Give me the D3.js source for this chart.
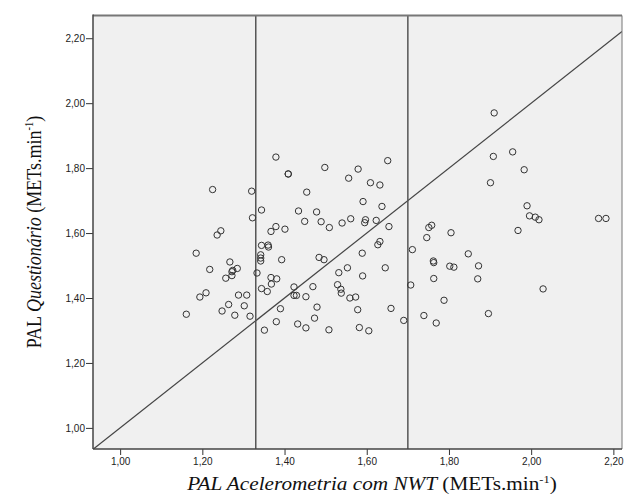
<!DOCTYPE html>
<html>
<head>
<meta charset="utf-8">
<script src="https://cdn.jsdelivr.net/npm/d3@7"></script>
<style>
  html, body { margin: 0; padding: 0; background: #fff; }
  svg { display: block; }
</style>
</head>
<body>
<svg id="chart" width="632" height="496"></svg>
<script>
// PAL Acelerometria com NWT (x) and PAL Questionário (y), METs.min-1
const palAcelerometria = [
  1.379,1.409,1.409,1.225,1.320,1.454,1.344,1.434,1.322,1.449,
  1.379,1.367,1.401,1.245,1.236,1.344,1.360,1.361,1.185,1.342,
  1.342,1.342,1.393,1.267,1.218,1.274,1.272,1.285,1.272,1.257,
  1.333,1.367,1.381,1.368,1.344,1.358,1.423,1.209,1.194,1.288,
  1.308,1.423,1.429,1.452,1.264,1.302,1.248,1.279,1.316,1.161,
  1.390,1.380,1.351,1.432,1.452,
  1.651,1.498,1.579,1.556,1.609,1.632,1.591,1.637,1.478,1.489,
  1.509,1.540,1.561,1.597,1.595,1.623,1.654,1.632,1.627,1.589,
  1.484,1.496,1.553,1.532,1.645,1.590,1.469,1.529,1.537,1.538,
  1.559,1.573,1.751,1.758,1.746,1.805,1.711,1.762,1.763,1.847,
  1.802,1.812,1.872,1.763,1.707,1.870,1.788,
  1.479,1.578,1.473,1.508,1.582,1.605,1.659,1.690,1.739,1.769,
  1.908,1.955,1.983,1.901,1.990,1.996,2.010,2.019,2.164,2.182,
  1.968,2.029,1.896,1.910
];
const palQuestionario = [
  1.834,1.782,1.782,1.734,1.729,1.726,1.671,1.668,1.647,1.636,
  1.620,1.605,1.612,1.607,1.594,1.562,1.563,1.557,1.538,1.533,
  1.523,1.514,1.518,1.511,1.488,1.485,1.481,1.491,1.469,1.461,
  1.477,1.463,1.459,1.443,1.429,1.420,1.434,1.416,1.403,1.409,
  1.409,1.408,1.408,1.404,1.380,1.376,1.360,1.347,1.344,1.350,
  1.367,1.327,1.301,1.320,1.308,
  1.823,1.802,1.797,1.769,1.755,1.748,1.697,1.682,1.665,1.635,
  1.617,1.631,1.644,1.641,1.632,1.639,1.620,1.574,1.564,1.538,
  1.525,1.518,1.493,1.478,1.493,1.468,1.435,1.441,1.427,1.415,
  1.400,1.403,1.617,1.624,1.586,1.601,1.549,1.514,1.509,1.536,
  1.498,1.495,1.499,1.460,1.440,1.459,1.393,
  1.372,1.364,1.338,1.302,1.309,1.299,1.368,1.331,1.346,1.323,
  1.836,1.850,1.795,1.755,1.684,1.653,1.649,1.641,1.645,1.645,
  1.608,1.428,1.352,1.970
];
const xTickValues = [1.00, 1.20, 1.40, 1.60, 1.80, 2.00, 2.20];
const yTickValues = [1.00, 1.20, 1.40, 1.60, 1.80, 2.00, 2.20];
const referenceX = [1.33, 1.70];
const xDomain = [0.934, 2.221];
const yDomain = [0.935, 2.270];

const svg = d3.select("#chart");
const plot = { left: 93, right: 622, top: 15.5, bottom: 449 };

const x = d3.scaleLinear().domain(xDomain).range([plot.left, plot.right]);
const y = d3.scaleLinear().domain(yDomain).range([plot.bottom, plot.top]);
const fmt = v => d3.format(".2f")(v).replace(".", ",");

svg.append("defs").append("clipPath").attr("id", "clip")
  .append("rect")
  .attr("x", plot.left).attr("y", plot.top)
  .attr("width", plot.right - plot.left).attr("height", plot.bottom - plot.top);

// background
svg.append("rect")
  .attr("x", plot.left).attr("y", plot.top)
  .attr("width", plot.right - plot.left).attr("height", plot.bottom - plot.top)
  .attr("fill", "#f0f0f0");

const g = svg.append("g").attr("clip-path", "url(#clip)");

// identity line y = x
const lo = Math.max(xDomain[0], yDomain[0]);
const hi = Math.min(xDomain[1], yDomain[1]);
g.append("line")
  .attr("x1", x(lo)).attr("y1", y(lo))
  .attr("x2", x(hi)).attr("y2", y(hi))
  .attr("stroke", "#444").attr("stroke-width", 1.2);

// vertical reference lines
g.selectAll("line.ref").data(referenceX).join("line")
  .attr("class", "ref")
  .attr("x1", d => x(d)).attr("x2", d => x(d))
  .attr("y1", plot.top).attr("y2", plot.bottom)
  .attr("stroke", "#555").attr("stroke-width", 1.5);

// points
const points = palAcelerometria.map((v, i) => ({ x: v, y: palQuestionario[i] }));
g.selectAll("circle").data(points).join("circle")
  .attr("cx", d => x(d.x)).attr("cy", d => y(d.y))
  .attr("r", 3.2)
  .attr("fill", "none")
  .attr("stroke", "#333")
  .attr("stroke-width", 1);

// axes
const xAxis = d3.axisBottom(x).tickValues(xTickValues).tickFormat(fmt).tickSize(6).tickSizeOuter(0);
const yAxis = d3.axisLeft(y).tickValues(yTickValues).tickFormat(fmt).tickSize(7).tickSizeOuter(0);

const gx = svg.append("g").attr("transform", `translate(0,${plot.bottom})`).call(xAxis);
const gy = svg.append("g").attr("transform", `translate(${plot.left},0)`).call(yAxis);
[gx, gy].forEach(a => {
  a.select(".domain").remove();
  a.selectAll(".tick line").attr("stroke", "#333").attr("stroke-width", 1);
  a.selectAll(".tick text")
    .attr("fill", "#222")
    .style("font-family", "'Liberation Sans', Arial, sans-serif")
    .style("font-size", "10px");
});
gx.selectAll(".tick text").attr("dy", "0.71em").attr("y", 9);
gy.selectAll(".tick text").attr("x", -8);

// frame
svg.append("line").attr("x1", plot.left).attr("x2", plot.right)
  .attr("y1", plot.top).attr("y2", plot.top)
  .attr("stroke", "#777").attr("stroke-width", 2);
svg.append("line").attr("x1", plot.right).attr("x2", plot.right)
  .attr("y1", plot.top).attr("y2", plot.bottom)
  .attr("stroke", "#777").attr("stroke-width", 1);
svg.append("line").attr("x1", plot.left).attr("x2", plot.left)
  .attr("y1", plot.top - 1).attr("y2", plot.bottom)
  .attr("stroke", "#444").attr("stroke-width", 1.5);
svg.append("line").attr("x1", plot.left).attr("x2", plot.right)
  .attr("y1", plot.bottom).attr("y2", plot.bottom)
  .attr("stroke", "#444").attr("stroke-width", 1.5);

// axis titles (the original image is stretched horizontally)
const serif = "'Liberation Serif', 'Times New Roman', serif";
const stretch = 1.18;
const xt = svg.append("text")
  .attr("transform", `translate(372,490) scale(${stretch},1)`)
  .attr("text-anchor", "middle")
  .style("font-family", serif).style("font-size", "18px").attr("fill", "#111");
xt.append("tspan").style("font-style", "italic").text("PAL Acelerometria com NWT");
xt.append("tspan").text(" (METs.min");
xt.append("tspan").attr("dy", -7).style("font-size", "10.5px").text("-1");
xt.append("tspan").attr("dy", 7).text(")");

const yt = svg.append("text")
  .attr("transform", `translate(41,232) scale(${stretch},1) rotate(-90)`)
  .attr("text-anchor", "middle")
  .style("font-family", serif).style("font-size", "18px").attr("fill", "#111");
yt.append("tspan").text("PAL ");
yt.append("tspan").style("font-style", "italic").text("Questionário");
yt.append("tspan").text(" (METs.min");
yt.append("tspan").attr("dy", -7).style("font-size", "10.5px").text("-1");
yt.append("tspan").attr("dy", 7).text(")");
</script>
</body>
</html>
